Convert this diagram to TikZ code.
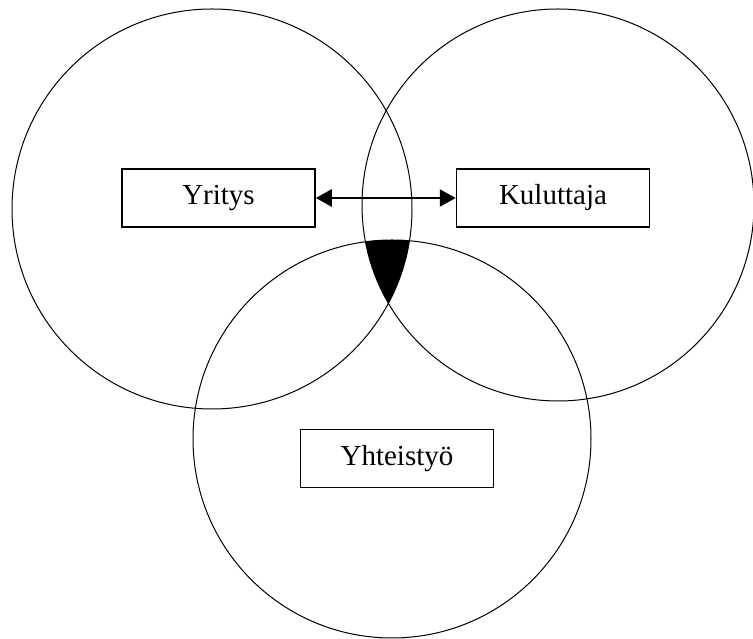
\documentclass[tikz,border=0pt]{standalone}
\usepackage{fontspec}
\setmainfont{Liberation Serif}
\usetikzlibrary{positioning}
\usetikzlibrary{arrows.meta}

\begin{document}
\begin{tikzpicture}[x=1pt, y=1pt, black, line width=1pt,
    box/.style={draw, line width=1.5pt, minimum width=193pt, minimum height=58pt,
      font=\fontsize{29}{34}\selectfont}]
  \useasboundingbox (0,0) rectangle (753,639);
  % shared part of all three
  \begin{scope}
    \clip (212,430) circle [radius=200];
    \clip (558,434) circle [radius=196];
    \fill (392,200) circle [radius=199];
  \end{scope}
  \draw (212,430) circle [radius=200];
  \draw (558,434) circle [radius=196];
  \draw (392,200) circle [radius=199];
  \node[box] (yritys) at (218.5,441) {Yritys};
  \node[box] (kuluttaja) at (553,441) {Kuluttaja};
  \node[box] (yhteistyo) at (397,180.5) {Yhteistyö};
  \draw[line width=2.5pt, {Triangle[length=16pt,width=17pt]}-{Triangle[length=16pt,width=17pt]}]
    (yritys) -- (kuluttaja);
\end{tikzpicture}
\end{document}
